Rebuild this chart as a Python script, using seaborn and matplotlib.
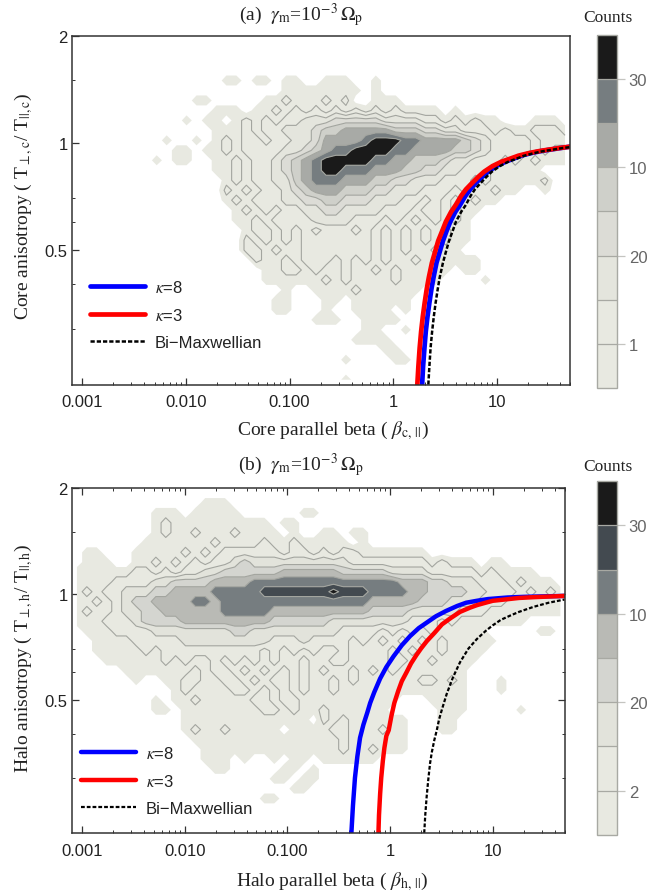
import numpy as np
import matplotlib
matplotlib.use("Agg")
import matplotlib.pyplot as plt
from matplotlib.colors import ListedColormap, BoundaryNorm
from matplotlib.cm import ScalarMappable
from matplotlib.ticker import FixedLocator, FixedFormatter, NullFormatter
import seaborn as sns

W, H = 665, 895

# Binned occupancy: each digit is the colour band of a cell (0 = empty).
core_rows = ["", "", "", "",
"00000 00000 00000 11011 01100 11100 1",
"00000 00000 00000 00000 01111 11110 1",
"00000 00000 00110 00001 12111 21200 11100",
"00000 00000 00001 11011 21212 12121 21211 11010",
"00000 00000 01011 01212 12233 34444 43333 22121 21100 01110",
"00000 00000 00001 11212 23334 55666 66555 44332 22121 12221",
"00000 00001 00101 21221 22334 66667 88877 66665 43222 21222",
"00000 00000 11011 21222 23345 67788 88776 66655 43222 21211",
"00000 00010 11001 12122 34567 88888 77665 55433 22212 12111",
"00000 00000 00001 12122 34567 88777 66655 44332 22111 11000",
"00000 00000 00000 12122 33567 77666 55443 33222 12111 11200",
"00000 00000 00000 21212 23456 66555 44333 22212 11211 00100",
"00000 00000 00000 12122 23344 55444 33322 12121 21100",
"00000 00000 00000 01212 12233 44333 32221 22121 1",
"00000 00000 00000 01121 22223 33322 21212 12121 0",
"00000 00000 00000 00122 12121 22212 12121 21211",
"00000 00000 00000 00212 12122 22222 12121 21211",
"00000 00000 00000 00221 21122 22222 12121 12110",
"00000 00000 00000 00021 12122 21212 12112 11111 1",
"00000 00000 00000 00001 12212 11211 21211 11101 1",
"00000 00000 00000 00001 11111 21211 11211 11000 01",
"00000 00000 00000 00000 01001 11121 11111",
"00000 00000 00000 00000 11000 11011 11110",
"00000 00000 00000 00000 11000 10011 11010",
"00000 00000 00000 00000 00001 11001 11100",
"00000 00000 00000 00000 00000 00001 10010",
"00000 00000 00000 00000 00000 00011 11000",
"00000 00000 00000 00000 00000 00000 01100",
"00000 00000 00000 00000 00000 00100 00110",
"",
"00000 00000 00000 00000 00000 00100"]

halo_rows = ["",
"00000 00000 00011 1",
"00000 00011 10111 11000 00011",
"00000 00012 11111 11111 01100",
"00000 00012 11211 12111 10100 11011",
"00000 00111 11112 11112 11211 11101",
"01100 01111 12121 22222 21221 21221 11111 1",
"01110 01121 21212 23433 33333 33322 22222 21211 10110",
"11111 12212 12233 44444 45555 55444 44333 32222 21211 11",
"11112 22233 44445 55566 66666 66666 66655 54433 32221 21110",
"12122 33344 55556 66667 77777 78777 66665 54444 33222 12121",
"11212 34455 55665 66666 66666 66666 55555 44433 32221 11111",
"12112 33445 55555 66666 55555 55555 44443 33332 22111 11111",
"11122 23444 45555 55555 44444 43333 33332 22121 11111 10000",
"01112 22233 33333 34433 33333 33222 21212 12111 11000 00110",
"00111 12222 23333 33333 22232 22212 12121 21211 111",
"00111 11212 22222 22221 21212 11211 11212 11211 11",
"00011 11112 12112 12121 21121 12211 11221 12111 1",
"00000 11111 11212 21212 12121 21121 21211 11111",
"00000 01001 12211 22121 22121 12121 11111 22121 00010",
"00000 00000 12111 12212 12121 12111 11111 11111 00010",
"00000 00010 11211 11122 12211 11111 11100 01111",
"00000 00011 01111 11112 21211 21111 11000 00111 00000 1",
"00000 00000 01111 11111 11110 21211 11110 00110",
"00000 00000 01211 21111 10111 12211 12110 00110",
"00000 00000 00111 11111 11111 11211 11110",
"00000 00000 00011 11111 11111 11211 21110",
"00000 00000 00011 10100 10110 11111 1",
"00000 00000 00001 10000 01101 0",
"00000 00000 00000 00000 11011",
"00000 00000 00000 00000 00110",
"00000 00000 00000 00001 1",
"", "", ""]

core_colors = ["#e8e9e1", "#e8e9e1", "#e4e5dd", "#dcdcd6", "#cfd0ca", "#a8aaa6", "#767d80", "#1a1a1a"]
halo_colors = ["#e8e9e1", "#e8e9e1", "#e2e3db", "#d4d5d0", "#b9bab5", "#767d80", "#434a50", "#1a1a1a"]
core_cbar_labels = ["1", "20", "10", "30"]
halo_cbar_labels = ["2", "20", "10", "30"]

# Threshold curves
core_k3_beta = [1.70, 1.74, 1.79, 1.85, 1.92, 2.0, 2.1, 2.2, 2.35, 2.5, 2.7, 2.95, 3.2, 3.6, 4.0,
                4.5, 5.0, 5.7, 6.5, 7.5, 9, 11, 13, 16, 20, 25, 30, 40, 50]
core_k3_ratio = [.209, .235, .265, .295, .325, .355, .39, .42, .46, .49, .53, .565, .60, .64, .67,
                 .71, .74, .77, .80, .83, .86, .885, .90, .92, .935, .947, .955, .967, .975]
core_k8_beta = [1.89, 1.93, 1.99, 2.05, 2.13, 2.22, 2.33, 2.44, 2.6, 2.77, 3.0, 3.25, 3.53, 3.95, 4.4,
                4.95, 5.5, 6.2, 7.1, 8.2, 9.8, 12, 14, 17, 21, 26, 31, 41, 50]
core_k8_ratio = [.209, .235, .265, .295, .325, .355, .39, .42, .46, .49, .53, .565, .60, .64, .67,
                 .71, .74, .77, .80, .83, .86, .885, .90, .92, .935, .947, .955, .967, .975]
core_bm_beta = [2.17, 2.22, 2.28, 2.36, 2.45, 2.55, 2.68, 2.8, 3.0, 3.18, 3.43, 3.72, 4.0, 4.5, 5.0,
                5.55, 6.1, 6.9, 7.8, 8.9, 10.6, 12.8, 15, 18.2, 22.5, 27.5, 33, 43, 50]
core_bm_ratio = [.209, .235, .265, .295, .325, .355, .39, .42, .46, .49, .53, .565, .60, .64, .67,
                 .71, .74, .77, .80, .83, .86, .885, .90, .92, .935, .947, .955, .967, .972]

halo_k8_beta = [.42, .435, .455, .48, .51, .55, .60, .64, .70, .80, .92, 1.08, 1.3, 1.57, 1.9,
                2.28, 2.8, 3.5, 4.5, 5.5, 7, 9, 14, 20, 30, 50]
halo_k8_ratio = [.209, .25, .30, .345, .39, .425, .46, .49, .525, .575, .62, .665, .715, .76, .80,
                 .83, .865, .895, .925, .945, .957, .968, .978, .982, .985, .988]
halo_k3_beta = [.77, .78, .80, .82, .85, .88, .92, .97, 1.03, 1.1, 1.2, 1.3, 1.45, 1.6, 1.8,
                2.0, 2.28, 2.7, 3.2, 3.9, 4.8, 6, 7, 8.5, 10, 13, 18, 25, 35, 50]
halo_k3_ratio = [.209, .235, .27, .30, .335, .365, .395, .41, .45, .49, .53, .565, .60, .635, .67,
                 .70, .735, .775, .82, .855, .89, .915, .93, .945, .957, .965, .975, .98, .984, .988]
halo_bm_beta = [2.15, 2.2, 2.27, 2.35, 2.45, 2.55, 2.7, 2.85, 3.0, 3.2, 3.56, 4.1, 4.8, 5.8, 7,
                8.5, 10, 12, 14.7, 18, 25, 35, 50]
halo_bm_ratio = [.209, .235, .265, .295, .33, .355, .385, .41, .44, .47, .52, .58, .64, .70, .745,
                 .785, .815, .845, .868, .89, .92, .945, .965]

x_ticks = [0.001, 0.01, 0.1, 1, 10]
x_labels = ["0.001", "0.010", "0.100", "1", "10"]
y_ticks = [0.5, 1, 2]
y_labels = ["0.5", "1", "2"]
y_minor = [0.3, 0.4, 0.6, 0.7, 1.5]

sns.set_theme(style="ticks", rc={"axes.grid": False})
plt.rcParams["font.family"] = ["Liberation Serif", "DejaVu Serif"]
plt.rcParams["mathtext.fontset"] = "stix"
SANS = "Liberation Sans"
INK = "#333333"


def grid_from(rows):
    z = np.zeros((len(rows), 50))
    for i, r in enumerate(rows):
        s = r.replace(" ", "")
        for j, ch in enumerate(s):
            z[i, j] = int(ch)
    return z


def panel(box, xlim, rows, colors, curves, legend_anchor, all_sides):
    l, t, r, b = box
    ax = fig.add_axes([l / W, 1 - b / H, (r - l) / W, (b - t) / H])
    ax.set_xscale("log")
    ax.set_yscale("log")
    ax.set_xlim(*xlim)
    ax.set_ylim(0.209, 2.0)
    z = grid_from(rows)
    xe = np.geomspace(xlim[0], xlim[1], z.shape[1] + 1)
    ye = np.geomspace(2.0, 0.209, z.shape[0] + 1)
    xc = np.sqrt(xe[:-1] * xe[1:])
    yc = np.sqrt(ye[:-1] * ye[1:])
    levels = np.arange(0.5, 9.0, 1.0)
    ax.contourf(xc, yc, z, levels=levels, colors=colors, antialiased=True)
    ax.contour(xc, yc, z, levels=levels[1:-1], colors="#a3a59f", linewidths=0.8)
    for xs, ys, label, color, lw, ls in curves:
        sns.lineplot(x=xs, y=ys, ax=ax, color=color, lw=lw, linestyle=ls, label=label,
                     sort=False, estimator=None, errorbar=None)
    leg = ax.legend(loc="lower left", bbox_to_anchor=legend_anchor, frameon=False, borderaxespad=0,
                    borderpad=0, handlelength=3.3, labelspacing=0.72, handletextpad=0.6,
                    prop={"family": SANS, "size": 12})
    for txt in leg.get_texts():
        txt.set_color("#222222")
    ax.xaxis.set_major_locator(FixedLocator(x_ticks))
    ax.xaxis.set_major_formatter(FixedFormatter(x_labels))
    ax.xaxis.set_minor_locator(FixedLocator([m * d for d in (1e-3, 1e-2, 1e-1, 1, 10)
                                             for m in range(2, 10)]))
    ax.xaxis.set_minor_formatter(NullFormatter())
    ax.yaxis.set_major_locator(FixedLocator(y_ticks))
    ax.yaxis.set_major_formatter(FixedFormatter(y_labels))
    ax.yaxis.set_minor_locator(FixedLocator(y_minor))
    ax.yaxis.set_minor_formatter(NullFormatter())
    ax.tick_params(which="major", direction="in", length=5, width=0.9, color=INK,
                   top=all_sides, right=all_sides, labelsize=12, labelcolor="#222222")
    ax.tick_params(axis="x", which="major", pad=7)
    ax.tick_params(axis="y", which="major", pad=3)
    ax.tick_params(which="minor", direction="in", length=2.5, width=0.7, color=INK,
                   top=all_sides, right=all_sides)
    for lab in ax.get_xticklabels() + ax.get_yticklabels():
        lab.set_family(SANS)
    for s in ax.spines.values():
        s.set_visible(True)
        s.set_color(INK)
        s.set_linewidth(1.1)
    return ax


def cbar(box, colors, labels):
    l, t, r, b = box
    cax = fig.add_axes([l / W, 1 - b / H, (r - l) / W, (b - t) / H])
    cmap = ListedColormap(colors)
    norm = BoundaryNorm(np.arange(0, 9), cmap.N)
    cb = fig.colorbar(ScalarMappable(norm=norm, cmap=cmap), cax=cax,
                      ticks=[1, 3, 5, 7], drawedges=True, spacing="uniform")
    cb.ax.set_yticklabels(labels, family=SANS, fontsize=12, color="#666666")
    cb.ax.tick_params(length=5.5, width=0.9, color="#c4c4c0", pad=3, which="major")
    cb.ax.minorticks_off()
    cb.dividers.set_color("#a8a9a3")
    cb.dividers.set_linewidth(0.9)
    cb.outline.set_edgecolor("#a8a9a3")
    cb.outline.set_linewidth(1.0)


fig = plt.figure(figsize=(W / 100, H / 100), dpi=100, facecolor="white")

core_curves = [
    (core_k8_beta, core_k8_ratio, r"$\kappa$=8", "#0000ff", 3.4, "-"),
    (core_k3_beta, core_k3_ratio, r"$\kappa$=3", "#ff0000", 3.4, "-"),
    (core_bm_beta, core_bm_ratio, "Bi\u2212Maxwellian", "black", 1.8, (0, (1.7, 0.8))),
]
halo_curves = [
    (halo_k8_beta, halo_k8_ratio, r"$\kappa$=8", "#0000ff", 3.2, "-"),
    (halo_k3_beta, halo_k3_ratio, r"$\kappa$=3", "#ff0000", 3.2, "-"),
    (halo_bm_beta, halo_bm_ratio, "Bi\u2212Maxwellian", "black", 1.6, (0, (1.7, 0.9))),
]

ax1 = panel((72, 36.7, 570, 385.7), (10 ** -3.096, 10 ** 1.701), core_rows, core_colors,
            core_curves, (18 / 498, 35 / 349), False)
ax2 = panel((72, 489.3, 565.3, 834), (10 ** -3.097, 10 ** 1.706), halo_rows, halo_colors,
            halo_curves, (9 / 493.3, 17 / 344.7), True)

cbar((597.3, 35.7, 617, 389), core_colors, core_cbar_labels)
cbar((597.3, 482.3, 617, 835.7), halo_colors, halo_cbar_labels)

LAB = 14
fig.text(301 / W, 1 - 15 / H, r"(a)  $\gamma_{\mathrm{m}}$=10$^{-3}$$\,\Omega_{\mathrm{p}}$",
         ha="center", va="center", fontsize=LAB, color="#222222")
fig.text(301 / W, 1 - 465 / H, r"(b)  $\gamma_{\mathrm{m}}$=10$^{-3}$$\,\Omega_{\mathrm{p}}$",
         ha="center", va="center", fontsize=LAB, color="#222222")
fig.text(608 / W, 1 - 18 / H, "Counts", ha="center", va="center", fontsize=12.5, color="#222222")
fig.text(608 / W, 1 - 467 / H, "Counts", ha="center", va="center", fontsize=12.5, color="#222222")

fig.text(333 / W, 1 - 431 / H, r"Core parallel beta ( $\beta_{\mathrm{c},\,||}$)",
         ha="center", va="center", fontsize=LAB, color="#222222")
fig.text(332 / W, 1 - 882 / H, r"Halo parallel beta ( $\beta_{\mathrm{h},\,||}$)",
         ha="center", va="center", fontsize=LAB, color="#222222")
fig.text(24 / W, 1 - 206 / H, r"Core anisotropy ( T$_{\perp,\mathrm{c}}$/ T$_{||,\mathrm{c}}$)",
         ha="center", va="center", rotation=90, fontsize=LAB, color="#222222")
fig.text(24 / W, 1 - 659 / H, r"Halo anisotropy ( T$_{\perp,\mathrm{h}}$/ T$_{||,\mathrm{h}}$)",
         ha="center", va="center", rotation=90, fontsize=LAB, color="#222222")

fig.savefig("out.png", dpi=100, facecolor="white")
